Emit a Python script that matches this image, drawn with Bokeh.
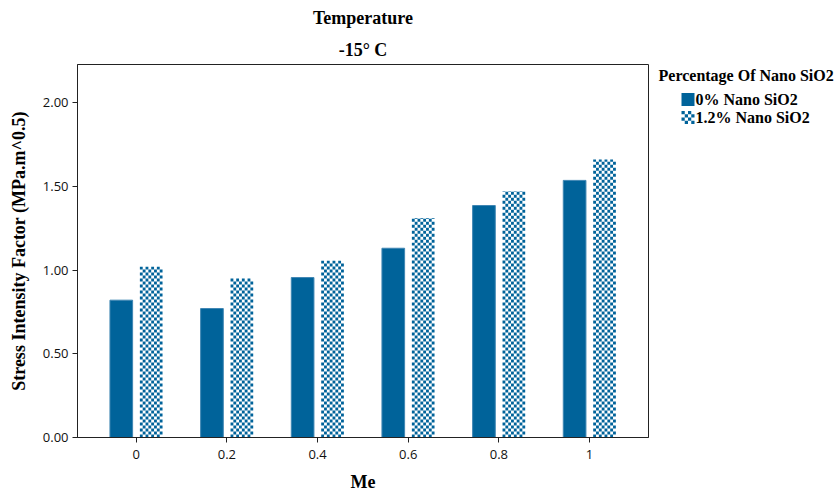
import numpy as np
from bokeh.plotting import figure
from bokeh.layouts import row
from bokeh.models import (ColumnDataSource, Title, FixedTicker, NumeralTickFormatter, Range1d)
from bokeh.core.properties import value
from bokeh.embed import file_html
from bokeh.resources import INLINE

# ---- data ----
me_labels = ["0", "0.2", "0.4", "0.6", "0.8", "1"]
sio2_0 = [0.82, 0.77, 0.955, 1.13, 1.385, 1.535]
sio2_12 = [1.02, 0.95, 1.055, 1.31, 1.47, 1.66]
series_names = ["0% Nano SiO2", "1.2% Nano SiO2"]
legend_title = "Percentage Of Nano SiO2"
title_lines = ["Temperature", "-15° C"]
y_ticks = [0.0, 0.5, 1.0, 1.5, 2.0]

BLUE = "#00639a"
SERIF = "Liberation Serif"
BAR_W = 0.25
OFFSET = 0.165
N_CELLS_X = 8          # checker cells across one bar
CELL_H = 0.0179        # checker cell height in y units (~3 px)

TOP, BOTTOM = 64, 57
H = 494

idx = np.arange(len(me_labels))

# ---- main figure ----
p = figure(width=649, height=H, output_backend="svg", toolbar_location=None,
           x_range=Range1d(-0.648, 5.650), y_range=Range1d(0, 2.227),
           min_border_left=77, min_border_right=1, min_border_top=TOP, min_border_bottom=BOTTOM)
p.background_fill_color = "white"
p.border_fill_color = "white"
p.outline_line_color = "#222222"
p.xgrid.visible = False
p.ygrid.visible = False

# solid bars
src0 = ColumnDataSource(dict(x=idx - OFFSET, top=sio2_0))
p.vbar(x="x", top="top", width=BAR_W, source=src0,
       fill_color=BLUE, line_color="#3f86b3", line_width=1)

# checker bars drawn as quads derived from the values
l, r, b, t = [], [], [], []
cw = BAR_W / N_CELLS_X
for i, v in zip(idx, sio2_12):
    left = i + OFFSET - BAR_W / 2
    nrows = int(np.ceil(v / CELL_H))
    for rr in range(nrows):
        y0 = rr * CELL_H
        y1 = min((rr + 1) * CELL_H, v)
        for cc in range(N_CELLS_X):
            if (rr + cc) % 2 == 0:
                l.append(left + cc * cw); r.append(left + (cc + 1) * cw)
                b.append(y0); t.append(y1)
p.quad(left=l, right=r, bottom=b, top=t, fill_color=BLUE, line_color=None)

# axes
p.xaxis.ticker = FixedTicker(ticks=list(idx))
p.xaxis.major_label_overrides = {int(i): lab for i, lab in zip(idx, me_labels)}
p.yaxis.ticker = FixedTicker(ticks=y_ticks)
p.yaxis.formatter = NumeralTickFormatter(format="0.00")
for ax in (p.xaxis[0], p.yaxis[0]):
    ax.minor_tick_line_color = None
    ax.major_tick_in = 0
    ax.major_tick_out = 5
    ax.axis_line_color = "#222222"
    ax.major_tick_line_color = "#222222"
    ax.major_label_text_font = "Open Sans"
    ax.major_label_text_font_size = "13px"
    ax.major_label_text_color = "#111111"
    ax.axis_label_text_font = SERIF
    ax.axis_label_text_font_style = "bold"
    ax.axis_label_text_color = "black"
p.yaxis.axis_label_text_font_size = "18px"
p.xaxis.axis_label_text_font_size = "18px"
p.xaxis.axis_label = "Me"
p.yaxis.axis_label = "Stress Intensity Factor (MPa.m^0.5)"
p.xaxis.axis_label_standoff = 10
p.yaxis.axis_label_standoff = 11
p.xaxis.major_label_standoff = 7
p.yaxis.major_label_standoff = 4

# titles (later added is placed higher)
p.add_layout(Title(text=title_lines[1], align="center", text_font=SERIF,
                   text_font_style="bold", text_font_size="18px", text_color="black",
                   standoff=9), "above")
p.add_layout(Title(text=title_lines[0], align="center", text_font=SERIF,
                   text_font_style="bold", text_font_size="18px", text_color="black",
                   standoff=11), "above")

# ---- legend panel (separate small figure; its frame is aligned with the main frame,
#      so its y range is expressed in page pixels of that frame) ----
lg = figure(width=186, height=H, output_backend="svg", toolbar_location=None,
            x_range=Range1d(0, 186), y_range=Range1d(H - BOTTOM, TOP),
            x_axis_location=None, y_axis_location=None,
            min_border=0, outline_line_color=None)
lg.grid.visible = False
lg.background_fill_color = "white"
lg.border_fill_color = "white"

lg.text(x=[9], y=[75], text=[legend_title], text_font=value(SERIF),
        text_font_style="bold", text_font_size="16px", text_baseline="middle",
        text_color="black")
item_y = [99, 117]
lg.text(x=[46, 46], y=item_y, text=series_names, text_font=value(SERIF),
        text_font_style="bold", text_font_size="16px", text_baseline="middle",
        text_color="black")
# solid swatch
lg.quad(left=[32], right=[45], top=[item_y[0] - 6.5], bottom=[item_y[0] + 6.5],
        fill_color=BLUE, line_color=None)
# checker swatch
sl, sr, sb, st = [], [], [], []
n = 4
cs = 13 / n
for rr in range(n):
    for cc in range(n):
        if (rr + cc) % 2 == 0:
            sl.append(32 + cc * cs); sr.append(32 + (cc + 1) * cs)
            st.append(item_y[1] - 6.5 + rr * cs); sb.append(item_y[1] - 6.5 + (rr + 1) * cs)
lg.quad(left=sl, right=sr, top=st, bottom=sb, fill_color=BLUE, line_color=None)

layout = row(p, lg, spacing=0)
open("out.html", "w").write(file_html(layout, INLINE))
